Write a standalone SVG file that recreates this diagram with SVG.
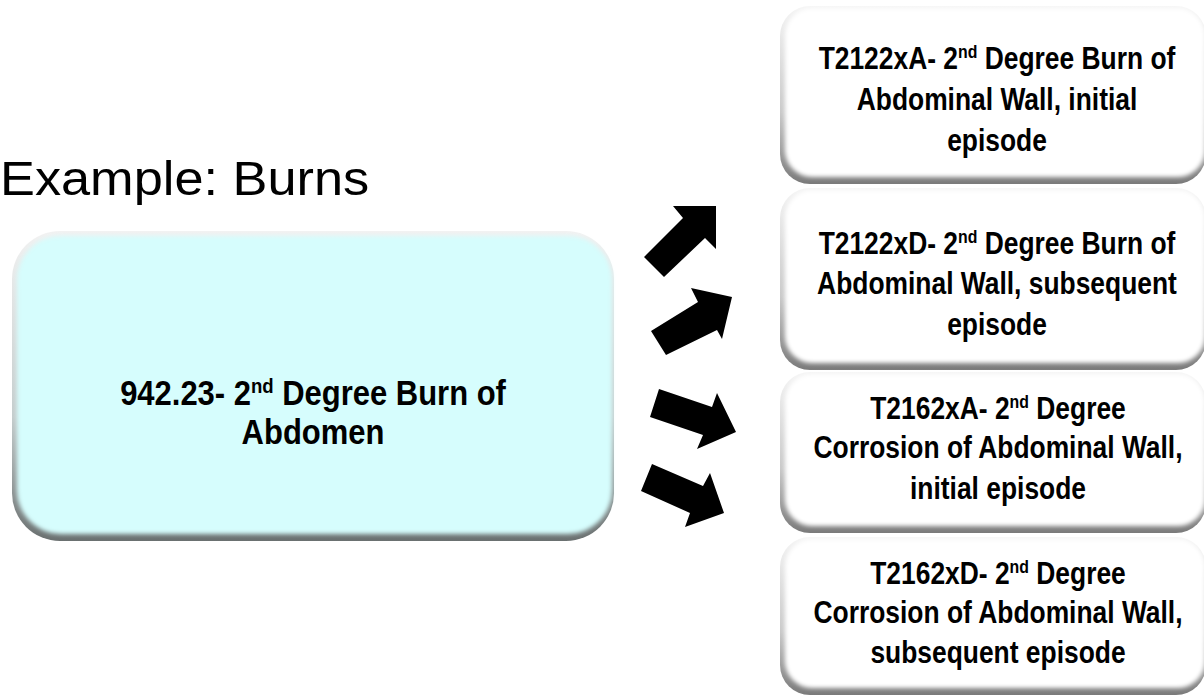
<svg xmlns="http://www.w3.org/2000/svg" width="1204" height="699" viewBox="0 0 1204 699">
  <defs>
    <linearGradient id="edgeGray" x1="0" y1="0" x2="0" y2="1">
      <stop offset="0" stop-color="#f4f4f4"/>
      <stop offset="0.6" stop-color="#c8c8c8"/>
      <stop offset="1" stop-color="#7a7a7a"/>
    </linearGradient>
    <linearGradient id="edgeCyan" x1="0" y1="0" x2="0" y2="1">
      <stop offset="0" stop-color="#f2f2f2"/>
      <stop offset="0.6" stop-color="#c4cccc"/>
      <stop offset="1" stop-color="#6a7070"/>
    </linearGradient>
    <filter id="soft" x="-5%" y="-5%" width="110%" height="110%">
      <feGaussianBlur stdDeviation="2.2"/>
    </filter>
    <style>
      .lbl { font-family: "Liberation Sans", Arial, sans-serif; font-weight: bold; fill: #000; text-anchor: middle; }
      .sup { font-size: 0.6em; }
      .title { font-family: "Liberation Sans", Arial, sans-serif; font-size: 48px; fill: #000; }
      .arrow { fill: #000; }
    </style>
  </defs>

  <rect width="1204" height="699" fill="#fff"/>

  <text class="title" transform="translate(0,195) scale(1.09,1)" x="0" y="0">Example: Burns</text>

  <!-- source code box -->
  <g id="icd9">
    <rect x="12" y="231" width="602" height="310" rx="48" fill="url(#edgeCyan)"/>
    <rect x="17" y="236" width="595" height="298" rx="44" fill="#d6fdfd" filter="url(#soft)"/>
    <g class="lbl" font-size="35" transform="translate(313,0) scale(0.885,1)">
      <text x="0" y="405">942.23- 2<tspan class="sup" baseline-shift="super">nd</tspan> Degree Burn of</text>
      <text x="0" y="444">Abdomen</text>
    </g>
  </g>

  <!-- target code boxes -->
  <g id="t2122xA">
    <rect x="780" y="6" width="426" height="178" rx="30" fill="url(#edgeGray)"/>
    <rect x="785" y="8" width="420" height="169" rx="27" fill="#fff" filter="url(#soft)"/>
    <g class="lbl" font-size="32" transform="translate(997,0) scale(0.825,1)">
      <text x="0" y="69">T2122xA- 2<tspan class="sup" baseline-shift="super">nd</tspan> Degree Burn of</text>
      <text x="0" y="110">Abdominal Wall, initial</text>
      <text x="0" y="151">episode</text>
    </g>
  </g>

  <g id="t2122xD">
    <rect x="780" y="188" width="426" height="182" rx="30" fill="url(#edgeGray)"/>
    <rect x="785" y="190" width="420" height="173" rx="27" fill="#fff" filter="url(#soft)"/>
    <g class="lbl" font-size="32" transform="translate(997,0) scale(0.825,1)">
      <text x="0" y="254">T2122xD- 2<tspan class="sup" baseline-shift="super">nd</tspan> Degree Burn of</text>
      <text x="0" y="294">Abdominal Wall, subsequent</text>
      <text x="0" y="335">episode</text>
    </g>
  </g>

  <g id="t2162xA">
    <rect x="780" y="372" width="426" height="161" rx="30" fill="url(#edgeGray)"/>
    <rect x="785" y="374" width="420" height="152" rx="27" fill="#fff" filter="url(#soft)"/>
    <g class="lbl" font-size="32" transform="translate(998,0) scale(0.825,1)">
      <text x="0" y="419">T2162xA- 2<tspan class="sup" baseline-shift="super">nd</tspan> Degree</text>
      <text x="0" y="458">Corrosion of Abdominal Wall,</text>
      <text x="0" y="499">initial episode</text>
    </g>
  </g>

  <g id="t2162xD">
    <rect x="780" y="537" width="426" height="158" rx="30" fill="url(#edgeGray)"/>
    <rect x="785" y="539" width="420" height="149" rx="27" fill="#fff" filter="url(#soft)"/>
    <g class="lbl" font-size="32" transform="translate(998,0) scale(0.825,1)">
      <text x="0" y="584">T2162xD- 2<tspan class="sup" baseline-shift="super">nd</tspan> Degree</text>
      <text x="0" y="623">Corrosion of Abdominal Wall,</text>
      <text x="0" y="663">subsequent episode</text>
    </g>
  </g>

  <!-- block arrows -->
  <g id="connectors">
    <polygon class="arrow" points="644,257 683,218 673,206 716,206 716,249 705,238 664,277"/>
    <polygon class="arrow" points="651,331 698,302 691,288 732,297 722,339 717,330 666,355"/>
    <polygon class="arrow" points="659,389 712,407 717,393 736,432 697,449 703,435 650,417"/>
    <polygon class="arrow" points="652,464 703,486 710,473 724,513 685,527 690,513 641,491"/>
  </g>
</svg>
